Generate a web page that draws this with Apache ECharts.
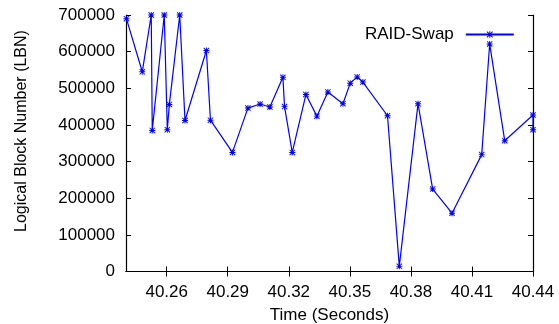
<!DOCTYPE html>
<html>
<head>
<meta charset="utf-8">
<script src="https://cdn.jsdelivr.net/npm/echarts@6/dist/echarts.min.js"></script>
<style>html,body{margin:0;padding:0;background:#fff;}#c{width:559px;height:324px;}</style>
</head>
<body>
<div id="c"></div>
<script>
const seriesName = 'RAID-Swap';
const times = [40.2402, 40.2480, 40.2524, 40.2529, 40.2588, 40.2603, 40.2613, 40.2664, 40.2690, 40.2795,
  40.2815, 40.2923, 40.2999, 40.3059, 40.3107, 40.3171, 40.3179, 40.3217, 40.3284, 40.3338,
  40.3392, 40.3466, 40.3502, 40.3536, 40.3564, 40.3685, 40.3743, 40.3835, 40.3907, 40.4002,
  40.4148, 40.4187, 40.4261, 40.4400, 40.4400];
const lbns = [690000, 545000, 700000, 385000, 700000, 387000, 456000, 700000, 412000, 603000,
  413000, 325000, 446000, 457000, 449000, 530000, 450000, 325000, 483000, 424000,
  490000, 458000, 514000, 531000, 517000, 425000, 14000, 458000, 225000, 159000,
  319000, 621000, 357000, 427000, 387000];
const xTicks = [40.26, 40.29, 40.32, 40.35, 40.38, 40.41, 40.44];
const xTitle = 'Time (Seconds)';
const yTitle = 'Logical Block Number (LBN)';

const FONT = 'Liberation Sans';
const star = 'path://M0,4.2L10,4.2L10,5.8L0,5.8Z M4.2,0L5.8,0L5.8,10L4.2,10Z M1.1,0L10,8.9L8.9,10L0,1.1Z M8.9,0L10,1.1L1.1,10L0,8.9Z';
const data = times.map((t, i) => [t, lbns[i]]);
const axisLine = {show: true, lineStyle: {color: '#000', width: 1.2}};
const chart = echarts.init(document.getElementById('c'), null, {renderer: 'canvas'});
chart.setOption({
  animation: false,
  backgroundColor: '#fff',
  grid: {left: 126, right: 26, top: 15, bottom: 52.5, containLabel: false, outerBoundsMode: 'none'},
  legend: {
    show: true, left: 360, top: 21, align: 'right',
    itemWidth: 48, itemHeight: 8, itemGap: 0,
    textStyle: {fontFamily: FONT, fontSize: 17, color: '#000', padding: [0, 7, 0, 0]},
    data: [seriesName]
  },
  xAxis: [{
    type: 'value', min: 40.24, max: 40.44, position: 'bottom',
    axisLine: axisLine,
    axisTick: {show: true, inside: true, length: 5, customValues: xTicks, lineStyle: {color: '#000'}},
    axisLabel: {show: true, customValues: xTicks, margin: 12, fontFamily: FONT, fontSize: 17, color: '#000',
      formatter: v => v.toFixed(2)},
    splitLine: {show: false},
    name: xTitle, nameLocation: 'middle', nameGap: 35,
    nameTextStyle: {fontFamily: FONT, fontSize: 17, color: '#000'}
  }, {
    type: 'value', min: 40.24, max: 40.44, position: 'top',
    axisLine: axisLine,
    axisTick: {show: true, inside: true, length: 5, customValues: xTicks, lineStyle: {color: '#000'}},
    axisLabel: {show: false},
    splitLine: {show: false}
  }],
  yAxis: [{
    type: 'value', min: 0, max: 700000, interval: 100000, position: 'left',
    axisLine: axisLine,
    axisTick: {show: true, inside: true, length: 5, lineStyle: {color: '#000'}},
    axisLabel: {show: true, margin: 11, fontFamily: FONT, fontSize: 17, color: '#000',
      formatter: v => String(v)},
    splitLine: {show: false}
  }, {
    type: 'value', min: 0, max: 700000, interval: 100000, position: 'right',
    axisLine: axisLine,
    axisTick: {show: true, inside: true, length: 5, lineStyle: {color: '#000'}},
    axisLabel: {show: false},
    splitLine: {show: false}
  }],
  graphic: [{
    type: 'text', x: 22, y: 131, rotation: Math.PI / 2,
    style: {text: yTitle, fontFamily: FONT, fontSize: 16, fill: '#000', align: 'center', verticalAlign: 'middle'}
  }],
  series: [{
    name: seriesName, type: 'line', xAxisIndex: 0, yAxisIndex: 0,
    data: data,
    symbol: star, symbolSize: 6, showSymbol: true,
    lineStyle: {color: '#0000ff', width: 1.2},
    itemStyle: {color: '#0000ff'},
    clip: false
  }]
});
</script>
</body>
</html>
